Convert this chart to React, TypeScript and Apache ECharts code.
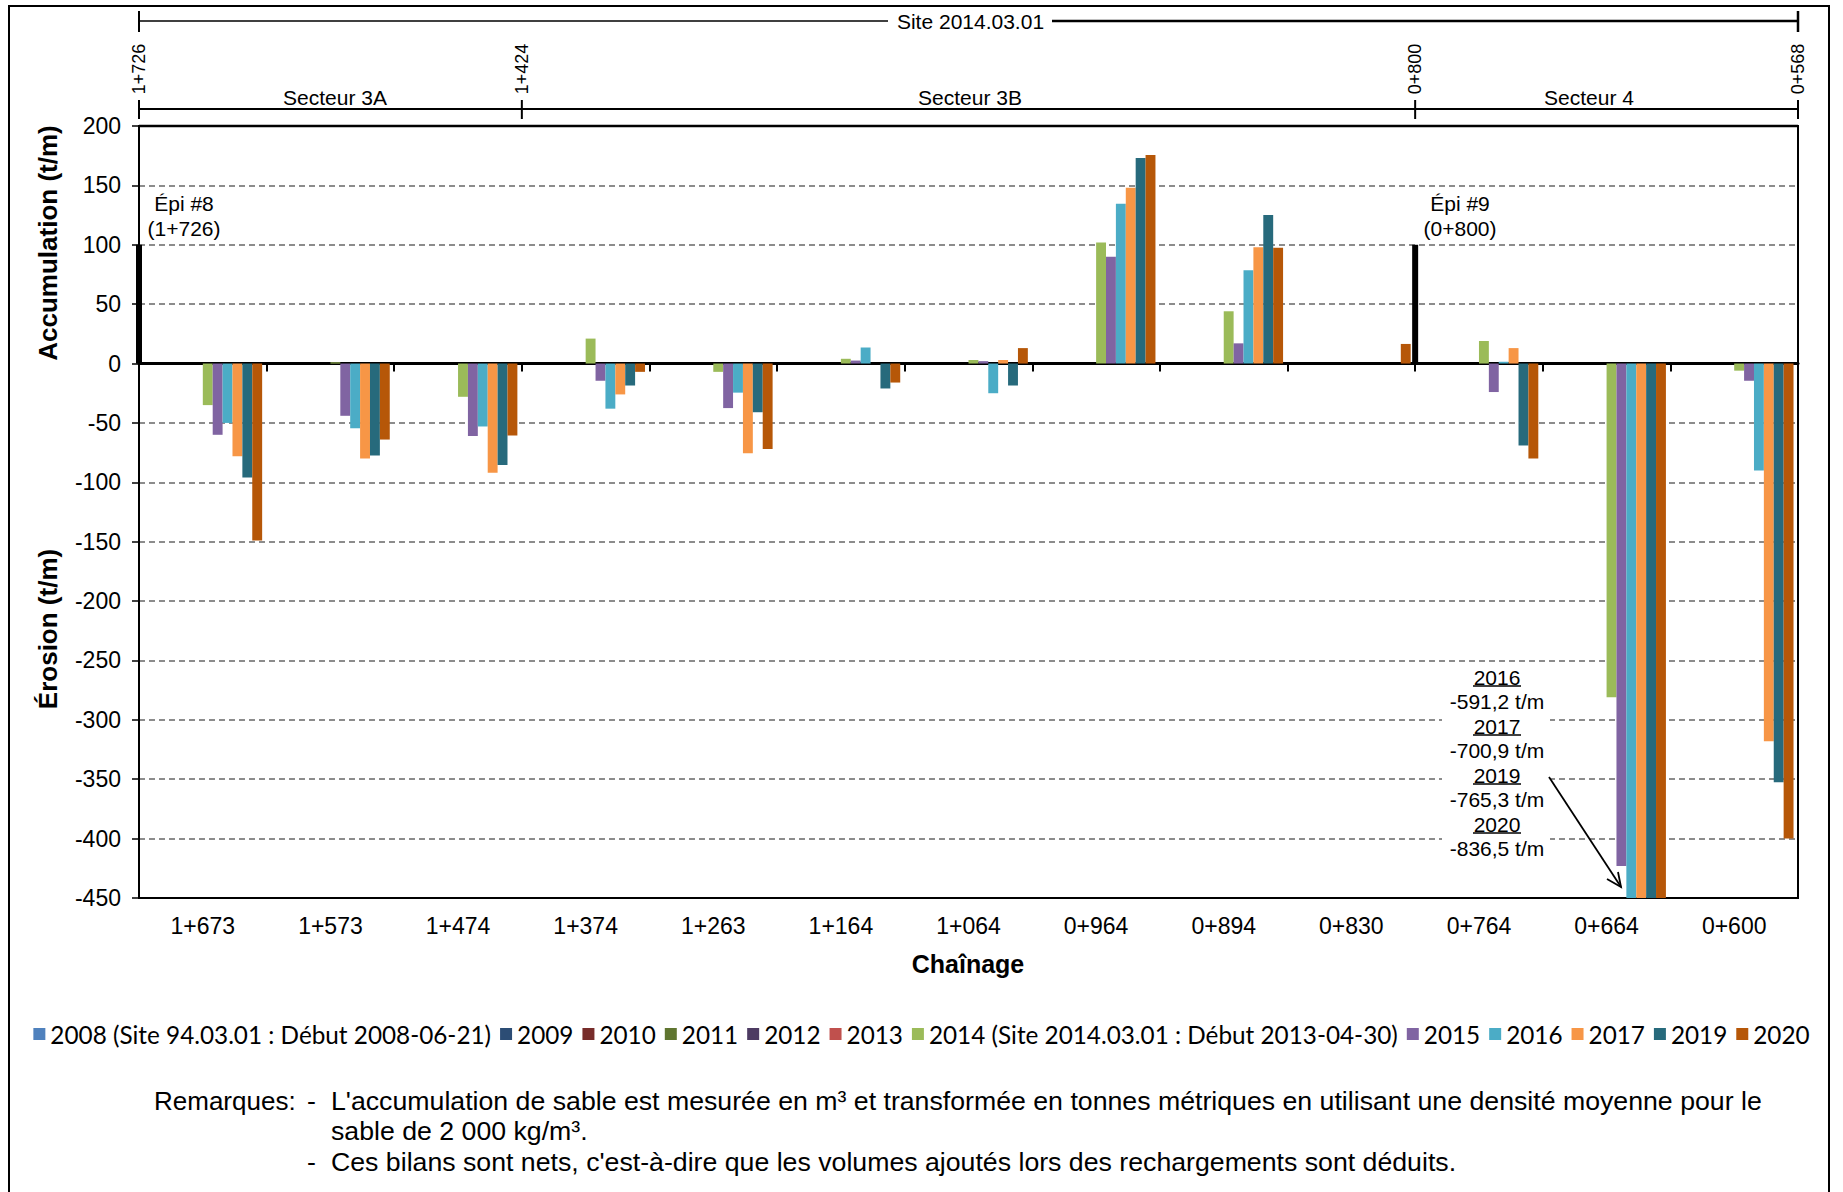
import React, { useEffect, useRef } from 'react';
import * as echarts from 'echarts';

// ---------- DATA ----------
const categories = ['1+673', '1+573', '1+474', '1+374', '1+263', '1+164', '1+064', '0+964', '0+894', '0+830', '0+764', '0+664', '0+600'];

const seriesNames = [
  '2008 (Site 94.03.01 : Début 2008-06-21)', '2009', '2010', '2011', '2012', '2013',
  '2014 (Site 2014.03.01 : Début 2013-04-30)', '2015', '2016', '2017', '2019', '2020',
];
const seriesColors = ['#4F81BD', '#2C4D75', '#772C2A', '#5F7530', '#4D3B62', '#C0504D', '#9BBB59', '#8064A2', '#4BACC6', '#F79646', '#276A7C', '#B65708'];

const empty = categories.map(() => null);
const v2008 = empty;
const v2009 = empty;
const v2010 = empty;
const v2011 = empty;
const v2012 = empty;
const v2013 = empty;
const v2014 = [-35, 1, -28, 21, -7, 4, 3, 102, 44, null, 19, -281, -6];
const v2015 = [-60, -44, -61, -14.5, -37.5, 2.5, 2, 90, 17, null, -24, -423, -14.5];
const v2016 = [-50, -54.5, -53, -38, -24.5, 13.5, -25, 134.5, 78.5, null, 1.5, -591.2, -90];
const v2017 = [-78, -80, -92, -26, -75.5, null, 3, 148, 98, null, 13, -700.9, -318];
const v2019 = [-96, -77.5, -85.5, -18.5, -41, -21, -18.5, 173, 125, null, -69, -765.3, -352.5];
const v2020 = [-149, -64, -60.5, -7, -72, -16, 13, 175.5, 97.5, 16.5, -80, -836.5, -400];
const seriesValues = [v2008, v2009, v2010, v2011, v2012, v2013, v2014, v2015, v2016, v2017, v2019, v2020];

const yMin = -450;
const yMax = 200;
const yInterval = 50;

// Groynes (épis): position on the chainage boundary index, height
const epiLabels = ['Épi #8', 'Épi #9'];
const epiChainage = ['(1+726)', '(0+800)'];
const epiBoundary = [0, 10];
const epiHeight = [100, 100];

// Top sections
const sectionMarks = ['1+726', '1+424', '0+800', '0+568'];
const sectionBoundary = [0, 3, 10, 13];
const sectorNames = ['Secteur 3A', 'Secteur 3B', 'Secteur 4'];
const siteName = 'Site 2014.03.01';

const noteYears = ['2016', '2017', '2019', '2020'];
const noteValues = ['-591,2 t/m', '-700,9 t/m', '-765,3 t/m', '-836,5 t/m'];

// ---------- LAYOUT ----------
const W = 1843;
const H = 1192;
const GL = 139;
const GR = 1798;
const GT = 126;
const GB = 898;
const catW = (GR - GL) / categories.length;
const bx = (i: number) => GL + i * catW;

const FONT = 'Liberation Sans, Arial, sans-serif';

export default function App() {
  const ref = useRef<HTMLDivElement>(null);
  useEffect(() => {
    if (!ref.current) return;
    const chart = echarts.init(ref.current, undefined, { renderer: 'svg' });

    const barSeries = seriesNames.map((name, i) => ({
      name,
      type: 'bar',
      xAxisIndex: 0,
      yAxisIndex: 0,
      data: seriesValues[i],
      barGap: '0%',
      barCategoryGap: '7%',
      itemStyle: { color: seriesColors[i] },
      clip: true,
      z: 2,
    }));

    const epiSeries = epiLabels.map((name, i) => ({
      name,
      type: 'line',
      xAxisIndex: 2,
      yAxisIndex: 0,
      data: [[epiBoundary[i], 0], [epiBoundary[i], epiHeight[i]]],
      symbol: 'none',
      lineStyle: { color: '#000', width: 6, cap: 'butt' },
      silent: true,
      z: 5,
    }));

    const graphic: any[] = [];
    // outer frame
    graphic.push({ type: 'rect', shape: { x: 9, y: 6, width: 1820, height: 1230 }, style: { fill: 'transparent', stroke: '#000', lineWidth: 2 }, silent: true, z: 0 });
    // solid top border of plot
    graphic.push({ type: 'line', shape: { x1: GL, y1: GT, x2: GR, y2: GT }, style: { stroke: '#000', lineWidth: 2.5 }, z: 20 });

    // Site line
    graphic.push({ type: 'line', shape: { x1: bx(0), y1: 21, x2: 888, y2: 21 }, style: { stroke: '#000', lineWidth: 1.5 } });
    graphic.push({ type: 'line', shape: { x1: 1052, y1: 21, x2: bx(13), y2: 21 }, style: { stroke: '#000', lineWidth: 2.5 } });
    graphic.push({ type: 'line', shape: { x1: bx(0), y1: 11, x2: bx(0), y2: 32 }, style: { stroke: '#000', lineWidth: 2 } });
    graphic.push({ type: 'line', shape: { x1: bx(13), y1: 11, x2: bx(13), y2: 32 }, style: { stroke: '#000', lineWidth: 2.5 } });
    graphic.push({ type: 'text', x: (GL + GR) / 2 + 2, y: 21, style: { text: siteName, font: `21px ${FONT}`, fill: '#000', align: 'center', verticalAlign: 'middle' } });

    // Sector line
    graphic.push({ type: 'line', shape: { x1: bx(0), y1: 109, x2: bx(13), y2: 109 }, style: { stroke: '#000', lineWidth: 2 } });
    sectionMarks.forEach((m, i) => {
      const x = bx(sectionBoundary[i]);
      graphic.push({ type: 'line', shape: { x1: x, y1: 100, x2: x, y2: 119 }, style: { stroke: '#000', lineWidth: 2 } });
      graphic.push({ type: 'text', x: x, y: 69, rotation: Math.PI / 2, style: { text: m, font: `18px ${FONT}`, fill: '#000', align: 'center', verticalAlign: 'middle' } });
    });
    const sectorX = [335, 970, 1589];
    sectorNames.forEach((s, i) => {
      graphic.push({ type: 'text', x: sectorX[i], y: 97, style: { text: s, font: `21px ${FONT}`, fill: '#000', align: 'center', verticalAlign: 'middle' } });
    });

    // Epi labels
    const epiX = [184, 1460];
    epiLabels.forEach((l, i) => {
      graphic.push({ type: 'text', x: epiX[i], y: 203, style: { text: l, font: `21px ${FONT}`, fill: '#000', align: 'center', verticalAlign: 'middle' }, z: 10 });
      graphic.push({ type: 'text', x: epiX[i], y: 228, style: { text: epiChainage[i], font: `21px ${FONT}`, fill: '#000', align: 'center', verticalAlign: 'middle' }, z: 10 });
    });

    // Y titles
    graphic.push({ type: 'text', x: 48, y: 243, rotation: Math.PI / 2, style: { text: 'Accumulation (t/m)', font: `bold 26px ${FONT}`, fill: '#000', align: 'center', verticalAlign: 'middle' } });
    graphic.push({ type: 'text', x: 48, y: 629, rotation: Math.PI / 2, style: { text: 'Érosion (t/m)', font: `bold 26px ${FONT}`, fill: '#000', align: 'center', verticalAlign: 'middle' } });

    // X title
    graphic.push({ type: 'text', x: 968, y: 964, style: { text: 'Chaînage', font: `bold 25px ${FONT}`, fill: '#000', align: 'center', verticalAlign: 'middle' } });

    // Annotation box for 0+664
    graphic.push({ type: 'rect', shape: { x: 1442, y: 664, width: 108, height: 196 }, style: { fill: '#fff' }, z: 8 });
    noteYears.forEach((yr, i) => {
      const y0 = 677 + i * 49;
      graphic.push({ type: 'text', x: 1497, y: y0, style: { text: yr, font: `21px ${FONT}`, fill: '#000', align: 'center', verticalAlign: 'middle' }, z: 10 });
      graphic.push({ type: 'line', shape: { x1: 1473, y1: y0 + 9, x2: 1521, y2: y0 + 9 }, style: { stroke: '#000', lineWidth: 1.5 }, z: 10 });
      graphic.push({ type: 'text', x: 1497, y: y0 + 24, style: { text: noteValues[i], font: `21px ${FONT}`, fill: '#000', align: 'center', verticalAlign: 'middle' }, z: 10 });
    });
    graphic.push({ type: 'line', shape: { x1: 1549, y1: 777, x2: 1621, y2: 887 }, style: { stroke: '#000', lineWidth: 1.8 }, z: 10 });
    graphic.push({ type: 'polyline', shape: { points: [[1607, 879], [1621, 887], [1618, 872]] }, style: { stroke: '#000', lineWidth: 1.8, fill: 'transparent' }, z: 10 });

    // Remarks
    const rf = `26.7px ${FONT}`;
    graphic.push({ type: 'text', x: 154, y: 1101, style: { text: 'Remarques:', font: `26px ${FONT}`, fill: '#000', verticalAlign: 'middle' } });
    graphic.push({ type: 'text', x: 307, y: 1101, style: { text: '-', font: rf, fill: '#000', verticalAlign: 'middle' } });
    graphic.push({ type: 'text', x: 331, y: 1101, style: { text: "L'accumulation de sable est mesurée en m³ et transformée en tonnes métriques en utilisant une densité moyenne pour le", font: rf, fill: '#000', verticalAlign: 'middle' } });
    graphic.push({ type: 'text', x: 331, y: 1131, style: { text: 'sable de 2 000 kg/m³.', font: rf, fill: '#000', verticalAlign: 'middle' } });
    graphic.push({ type: 'text', x: 307, y: 1162, style: { text: '-', font: rf, fill: '#000', verticalAlign: 'middle' } });
    graphic.push({ type: 'text', x: 331, y: 1162, style: { text: "Ces bilans sont nets, c'est-à-dire que les volumes ajoutés lors des rechargements sont déduits.", font: rf, fill: '#000', verticalAlign: 'middle' } });

    const option: any = {
      animation: false,
      backgroundColor: '#fff',
      textStyle: { fontFamily: FONT },
      grid: { left: GL, right: W - GR, top: GT, bottom: H - GB, show: true, borderColor: '#000', borderWidth: 2, backgroundColor: 'transparent' },
      legend: {
        data: seriesNames,
        top: 1017,
        left: 'center',
        itemWidth: 12,
        itemHeight: 12,
        itemGap: 9,
        icon: 'rect',
        textStyle: { fontFamily: 'Lato, sans-serif', fontSize: 24.3, color: '#000' },
      },
      xAxis: [
        {
          type: 'category',
          data: categories,
          position: 'bottom',
          axisLine: { onZero: false, lineStyle: { color: '#000', width: 2 } },
          axisTick: { show: false },
          axisLabel: { color: '#000', fontSize: 23, fontFamily: FONT, margin: 16 },
          splitLine: { show: false },
        },
        {
          type: 'category',
          data: categories,
          position: 'bottom',
          axisLine: { onZero: true, lineStyle: { color: '#000', width: 3 } },
          axisTick: { show: true, length: 8, lineStyle: { color: '#000', width: 2 } },
          axisLabel: { show: false },
          splitLine: { show: false },
        },
        {
          type: 'value',
          min: 0,
          max: categories.length,
          show: false,
          axisLine: { onZero: false },
        },
      ],
      yAxis: {
        type: 'value',
        min: yMin,
        max: yMax,
        interval: yInterval,
        axisLine: { show: true, onZero: false, lineStyle: { color: '#000', width: 2 } },
        axisTick: { show: true, length: 7, lineStyle: { color: '#000', width: 1.5 } },
        axisLabel: { color: '#000', fontSize: 23, fontFamily: FONT, margin: 18 },
        splitLine: { show: true, lineStyle: { color: '#8c8c8c', type: [6, 4], width: 1.8 } },
      },
      series: [...barSeries, ...epiSeries],
      graphic,
    };
    chart.setOption(option);
    return () => chart.dispose();
  }, []);
  return <div ref={ref} style={{ position: 'absolute', left: 0, top: 0, width: W, height: H }} />;
}
